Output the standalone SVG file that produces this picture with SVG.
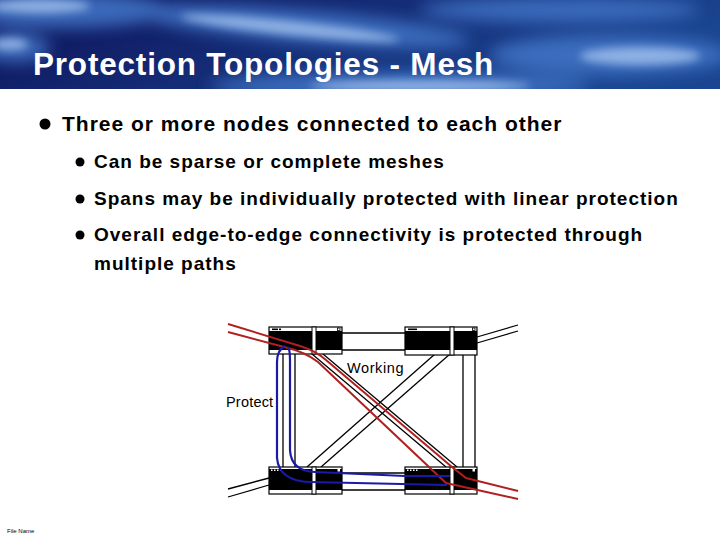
<svg xmlns="http://www.w3.org/2000/svg" width="720" height="540" viewBox="0 0 720 540">
<defs>
<linearGradient id="hdr" x1="0" y1="0" x2="1" y2="0.3">
<stop offset="0" stop-color="#0d1258"/>
<stop offset="0.45" stop-color="#142a74"/>
<stop offset="1" stop-color="#1a4590"/>
</linearGradient>
<filter id="blur" x="-50%" y="-50%" width="200%" height="200%"><feGaussianBlur stdDeviation="8"/></filter>
<filter id="blur2" x="-50%" y="-50%" width="200%" height="200%"><feGaussianBlur stdDeviation="4"/></filter>
<clipPath id="hc"><rect x="0" y="0" width="720" height="89"/></clipPath>
</defs>
<style>
.t{font-family:"Liberation Sans",Arial,sans-serif;font-weight:bold;fill:#000}
.s{font-size:19px;letter-spacing:1px}
.lk{stroke:#000;stroke-width:1.3;fill:none}
.nd{fill:#fff;stroke:#000;stroke-width:1.2}
.bk{fill:#000}
.red{stroke:#b02020;stroke-width:2;fill:none}
.blue{stroke:#1a1aa8;stroke-width:2.2;fill:none}
.lbl{font-family:"Liberation Sans",Arial,sans-serif;font-size:14.5px;fill:#000}
</style>
<rect width="720" height="540" fill="#fff"/>
<g id="header" clip-path="url(#hc)">
<rect x="0" y="0" width="720" height="89" fill="url(#hdr)"/>
<g filter="url(#blur)" fill="#3f72c4" opacity="0.9">
<ellipse cx="60" cy="10" rx="110" ry="18"/>
<ellipse cx="300" cy="26" rx="170" ry="16" transform="rotate(5 300 26)"/>
<ellipse cx="610" cy="55" rx="120" ry="20"/>
<ellipse cx="400" cy="86" rx="190" ry="14"/>
<ellipse cx="560" cy="10" rx="140" ry="12"/>
<ellipse cx="15" cy="48" rx="35" ry="14"/>
</g>
<g filter="url(#blur2)" fill="#a9c8f0" opacity="0.75">
<ellipse cx="290" cy="28" rx="110" ry="7" transform="rotate(6 290 28)"/>
<ellipse cx="40" cy="6" rx="50" ry="7"/>
<ellipse cx="640" cy="56" rx="60" ry="9"/>
<ellipse cx="420" cy="86" rx="110" ry="6"/>
<ellipse cx="10" cy="44" rx="18" ry="6"/>
</g>
<text x="33" y="75" font-family="Liberation Sans,Arial,sans-serif" font-weight="bold" font-size="31.5" letter-spacing="0.8" fill="#fff">Protection Topologies - Mesh</text>
</g>
<g id="bullets">
<circle cx="45" cy="124" r="5.5" fill="#000"/>
<text class="t" x="62" y="131" font-size="21" letter-spacing="1">Three or more nodes connected to each other</text>
<circle cx="80" cy="162" r="4.5" fill="#000"/>
<text class="t s" x="94" y="168">Can be sparse or complete meshes</text>
<circle cx="80" cy="199" r="4.5" fill="#000"/>
<text class="t s" x="94" y="205">Spans may be individually protected with linear protection</text>
<circle cx="80" cy="235" r="4.5" fill="#000"/>
<text class="t s" x="94" y="241">Overall edge-to-edge connectivity is protected through</text>
<text class="t s" x="94" y="270">multiple paths</text>
</g>
<g id="links">
<line class="lk" x1="342" y1="333" x2="405" y2="333"/>
<line class="lk" x1="342" y1="350" x2="405" y2="350"/>
<line class="lk" x1="342" y1="473" x2="405" y2="473"/>
<line class="lk" x1="342" y1="490" x2="405" y2="490"/>
<line class="lk" x1="283" y1="354" x2="283" y2="467"/>
<line class="lk" x1="295" y1="354" x2="295" y2="467"/>
<line class="lk" x1="463" y1="354" x2="463" y2="467"/>
<line class="lk" x1="475" y1="354" x2="475" y2="467"/>
<line class="lk" x1="312" y1="354" x2="446" y2="467"/>
<line class="lk" x1="323" y1="354" x2="457" y2="467"/>
<line class="lk" x1="435" y1="354" x2="307" y2="467"/>
<line class="lk" x1="450" y1="354" x2="321" y2="467"/>
<line class="lk" x1="477" y1="337" x2="518" y2="325"/>
<line class="lk" x1="477" y1="343" x2="518" y2="331"/>
<line class="lk" x1="228" y1="489" x2="269" y2="478"/>
<line class="lk" x1="228" y1="497" x2="269" y2="485"/>
</g>
<g id="node-tl">
<rect class="nd" x="269" y="327" width="73" height="27"/>
<rect class="bk" x="269" y="331" width="73" height="19"/>
<rect x="312" y="327" width="4" height="27" fill="#fff" stroke="#000" stroke-width="1"/>
<rect class="bk" x="272" y="328.5" width="6" height="1.6"/>
<rect class="bk" x="279" y="328.5" width="2" height="1.6"/>
<rect x="337.5" y="328" width="2.5" height="2.5" fill="none" stroke="#000" stroke-width="0.8"/>
</g>
<g id="node-tr">
<rect class="nd" x="405" y="327" width="72" height="28"/>
<rect class="bk" x="405" y="331" width="72" height="19"/>
<rect x="450" y="327" width="4" height="28" fill="#fff" stroke="#000" stroke-width="1"/>
<rect class="bk" x="408" y="328.5" width="9" height="1.6"/>
<rect x="472.5" y="328" width="2.5" height="2.5" fill="none" stroke="#000" stroke-width="0.8"/>
</g>
<g id="node-bl">
<rect class="nd" x="269" y="467" width="73" height="27"/>
<rect class="bk" x="269" y="469" width="73" height="21"/>
<rect x="312" y="467" width="4" height="27" fill="#fff" stroke="#000" stroke-width="1"/>
<g fill="#fff"><rect x="271" y="469.5" width="1.5" height="1.5"/><rect x="274" y="469.5" width="1.5" height="1.5"/><rect x="277" y="469.5" width="1.5" height="1.5"/><rect x="280" y="469.5" width="1.5" height="1.5"/></g>
<rect x="337.5" y="469" width="2.5" height="2.5" fill="#fff"/>
</g>
<g id="node-br">
<rect class="nd" x="405" y="467" width="72" height="27"/>
<rect class="bk" x="405" y="469" width="72" height="21"/>
<rect x="450" y="467" width="4" height="27" fill="#fff" stroke="#000" stroke-width="1"/>
<g fill="#fff"><rect x="407" y="469.5" width="1.5" height="1.5"/><rect x="410" y="469.5" width="1.5" height="1.5"/><rect x="413" y="469.5" width="1.5" height="1.5"/><rect x="416" y="469.5" width="1.5" height="1.5"/></g>
<rect x="472.5" y="469" width="2.5" height="2.5" fill="#fff"/>
</g>
<g id="paths">
<path class="red" d="M228,324 L300,346 Q316,351 326,360 L452,467 L466,478 L518,491"/>
<path class="red" d="M228,332 L288,348 Q305,352 318,362 L446,483 L518,499"/>
<path class="blue" d="M288,347 Q290,350 290,360 L290,450 Q291,471 315,472 L405,476 L450,476"/>
<path class="blue" d="M285,346 Q277,350 277,362 L277,458 Q279,481 310,482 L447,485"/>
</g>
<g id="labels">
<text class="lbl" x="347" y="373" letter-spacing="0.6">Working</text>
<text class="lbl" x="226" y="407" letter-spacing="0.2">Protect</text>
</g>
<text x="7" y="533" font-family="Liberation Sans,Arial,sans-serif" font-size="6" fill="#000">File Name</text>
</svg>
